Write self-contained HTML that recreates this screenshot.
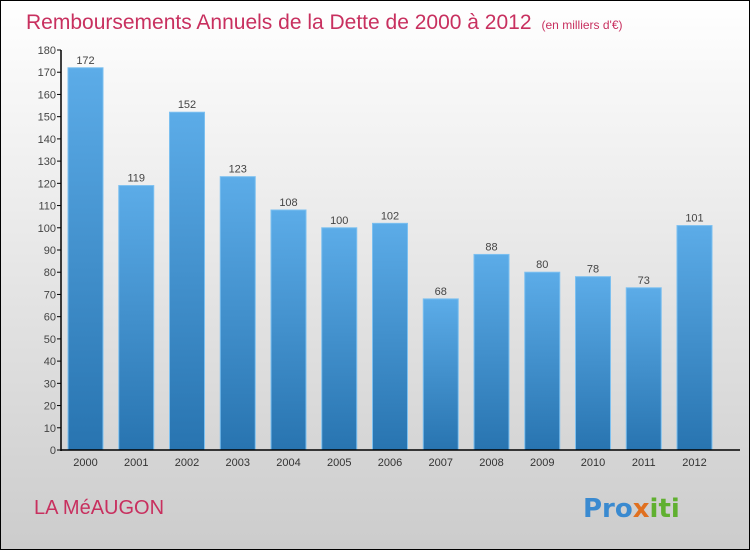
<!DOCTYPE html>
<html><head><meta charset="utf-8"><style>
body{margin:0}
#wrap{width:748px;height:548px;border:1px solid #000;background:linear-gradient(#ffffff,#cccccc);position:relative;font-family:"Liberation Sans",sans-serif;overflow:hidden}
</style></head><body>
<div id="wrap">
<svg id="chart" width="748" height="548">
<defs><linearGradient id="bg" x1="0" y1="0" x2="0" y2="1"><stop offset="0" stop-color="#5cace8"/><stop offset="1" stop-color="#2874b0"/></linearGradient></defs>
<text x="25" y="28" font-size="21" fill="#c8305f" font-family="Liberation Sans, sans-serif">Remboursements Annuels de la Dette de 2000 à 2012<tspan font-size="12" dx="10">(en milliers d'€)</tspan></text>
<text x="33" y="513" font-size="20" fill="#c8305f" font-family="Liberation Sans, sans-serif">LA MéAUGON</text>
<text x="582" y="516" font-size="26" font-weight="bold" font-family="DejaVu Sans, sans-serif"><tspan fill="#3a8ad0">Pro</tspan><tspan fill="#e07020">x</tspan><tspan fill="#60b030">iti</tspan></text>
<g id="plot"></g>
</svg>
</div>
<script>
const categories=["2000","2001","2002","2003","2004","2005","2006","2007","2008","2009","2010","2011","2012"];
const values=[172,119,152,123,108,100,102,68,88,80,78,73,101];
const yTicks=[0,10,20,30,40,50,60,70,80,90,100,110,120,130,140,150,160,170,180];
const NS="http://www.w3.org/2000/svg";
const g=document.getElementById('plot');
const y0=449,yTop=49,yMax=180,x0=60,x1=739;
const y=v=>y0-(y0-yTop)*v/yMax;
const step=50.75;
const x=i=>x0+7+i*step;
const bw=35;
function el(t,a){const e=document.createElementNS(NS,t);for(const k in a)e.setAttribute(k,a[k]);g.appendChild(e);return e;}
yTicks.forEach(t=>{
  const l=el('line',{x1:x0-4,x2:x0,y1:y(t),y2:y(t),stroke:'#000'});
  
  
  const tx=el('text',{x:x0-5,y:y(t)+4,'text-anchor':'end','font-size':11,fill:'#444'});
  tx.textContent=t;
  
  
});
values.forEach((v,i)=>{
  const r=el('rect',{x:x(i),y:y(v),width:bw,height:y0-y(v),fill:'url(#bg)',stroke:'#7cc0f0','stroke-width':1});
  
  
  const t=el('text',{x:x(i)+bw/2,y:y(v)-4,'text-anchor':'middle','font-size':11,fill:'#444'});
  t.textContent=v;
  
  
  const c=el('text',{x:x(i)+bw/2,y:y0+16,'text-anchor':'middle','font-size':11,fill:'#333'});
  c.textContent=categories[i];
  
  
});
const ya=el('line',{x1:x0,x2:x0,y1:yTop,y2:y0+1,stroke:'#000','stroke-width':1.5});


const xa=el('line',{x1:x0,x2:x1,y1:y0,y2:y0,stroke:'#000','stroke-width':1.5});


</script>
</body></html>
